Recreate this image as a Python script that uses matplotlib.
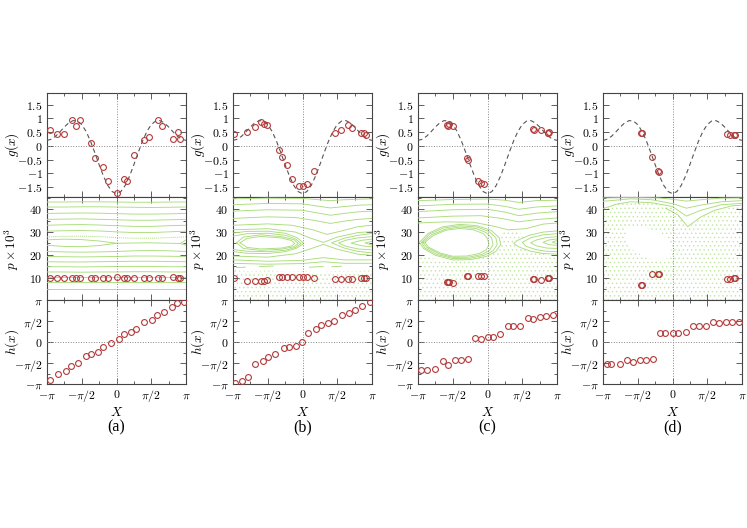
import numpy as np
import matplotlib
matplotlib.use("Agg")
import matplotlib.pyplot as plt
from matplotlib.ticker import MultipleLocator

plt.rcParams['mathtext.fontset'] = 'cm'
plt.rcParams['hatch.linewidth'] = 0.5

pi = np.pi
RED = '#b23a3a'
GREEN = '#aadd7c'
DOTS = '#c2e6a2'

# ---- dashed potential curve g(x), x in units of pi ----
gx = [k / 16 for k in range(-16, 17)]
gy = [0.200, 0.240, 0.353, 0.514, 0.689, 0.838, 0.921, 0.906, 0.775, 0.526, 0.175,
      -0.245, -0.689, -1.107, -1.449, -1.672, -1.750, -1.672, -1.449, -1.107, -0.689,
      -0.245, 0.175, 0.526, 0.775, 0.906, 0.921, 0.838, 0.689, 0.514, 0.353, 0.240, 0.200]

# ---- particles: position (units of pi), g value, momentum (x1e3) ----
xa = [-0.959, -0.853, -0.757, -0.636, -0.583, -0.525, -0.371, -0.308, -0.198, -0.125, 0.005,
      0.111, 0.145, 0.255, 0.39, 0.472, 0.602, 0.66, 0.82, 0.882, 0.92]
ga = [0.59, 0.43, 0.43, 0.94, 0.71, 0.94, 0.09, -0.45, -0.77, -1.29, -1.74, -1.22, -1.29,
      -0.34, 0.23, 0.31, 0.94, 0.73, 0.26, 0.51, 0.24]
pa = [9.9, 9.8, 9.9, 9.8, 9.8, 9.9, 9.9, 9.9, 10.0, 9.9, 10.3, 9.9, 9.9, 10.0, 9.8, 9.9,
      9.9, 9.9, 10.1, 9.9, 9.9]

xb = [-0.986, -0.8, -0.687, -0.6, -0.557, -0.504, -0.340, -0.301, -0.229, -0.147, -0.046,
      0.012, 0.06, 0.171, 0.47, 0.557, 0.648, 0.711, 0.841, 0.88, 0.913]
gb = [0.45, 0.51, 0.69, 0.86, 0.80, 0.75, -0.16, -0.40, -0.71, -1.2, -1.48, -1.46, -1.41,
      -0.93, 0.47, 0.58, 0.76, 0.66, 0.47, 0.47, 0.40]
pb = [9.7, 8.7, 8.7, 8.6, 8.6, 9.1, 10.2, 10.2, 10.2, 10.4, 10.4, 10.2, 10.2, 10.0, 9.3,
      9.3, 9.3, 9.3, 9.7, 9.7, 9.7]

xc = [-0.58, -0.55, -0.565, -0.49, -0.29, -0.283, -0.133, -0.095, -0.052, 0.648, 0.662,
      0.771, 0.867, 0.89, 0.876]
gc = [0.76, 0.78, 0.74, 0.71, -0.44, -0.50, -1.27, -1.37, -1.41, 0.61, 0.58, 0.56, 0.46,
      0.50, 0.47]
pc = [7.9, 7.9, 7.9, 7.8, 10.7, 10.8, 10.6, 10.6, 10.6, 9.4, 9.4, 9.1, 9.8, 9.8, 9.7]

xd = [-0.46, -0.445, -0.297, -0.207, -0.193, 0.777, 0.825, 0.885, 0.897]
gd = [0.47, 0.46, -0.40, -0.92, -0.95, 0.43, 0.40, 0.39, 0.40]
pd_ = [7.0, 7.0, 11.7, 11.7, 11.8, 9.45, 9.45, 9.8, 9.8]

# ---- h(x) ----
hxa = [-0.95, -0.843, -0.733, -0.66, -0.554, -0.443, -0.371, -0.26, -0.188, -0.082, 0.029,
       0.111, 0.207, 0.28, 0.4, 0.506, 0.578, 0.689, 0.795, 0.867, 0.969]
hya = [-0.897, -0.762, -0.683, -0.563, -0.5, -0.341, -0.286, -0.238, -0.127, -0.024, 0.071,
       0.198, 0.238, 0.31, 0.468, 0.516, 0.635, 0.706, 0.833, 0.929, 0.952]
hxb = [-0.967, -0.866, -0.784, -0.677, -0.566, -0.494, -0.393, -0.267, -0.2, -0.094, -0.012,
       0.084, 0.19, 0.267, 0.373, 0.455, 0.566, 0.672, 0.749, 0.855, 0.966]
hyb = [-0.976, -0.937, -0.825, -0.524, -0.444, -0.365, -0.294, -0.151, -0.127, -0.087, 0.008,
       0.206, 0.302, 0.397, 0.444, 0.492, 0.651, 0.69, 0.77, 0.849, 0.944]
hxc = [-0.952, -0.866, -0.751, -0.641, -0.569, -0.474, -0.388, -0.282, -0.187, -0.1, 0.005,
       0.077, 0.187, 0.292, 0.364, 0.469, 0.579, 0.66, 0.761, 0.842, 0.947]
hyc = [-0.664, -0.664, -0.632, -0.451, -0.545, -0.435, -0.419, -0.403, 0.087, 0.079, 0.119,
       0.119, 0.182, 0.379, 0.379, 0.379, 0.577, 0.538, 0.593, 0.609, 0.640]
hxd = [-0.943, -0.88, -0.751, -0.655, -0.573, -0.463, -0.381, -0.285, -0.175, -0.103, 0.007,
       0.074, 0.194, 0.295, 0.376, 0.482, 0.583, 0.664, 0.770, 0.856, 0.952]
hyd = [-0.535, -0.535, -0.535, -0.417, -0.472, -0.417, -0.417, -0.409, 0.213, 0.213, 0.213,
       0.213, 0.236, 0.370, 0.370, 0.370, 0.472, 0.449, 0.472, 0.472, 0.488]

# ---- phase space traces: (x/pi, p) ----
xn = [-1, -0.75, -0.5, -0.25, 0, 0.25, 0.5, 0.75, 1]
a_levels = [
    [43.2, 43.2, 43.3, 43.3, 43.2, 43.1, 43.1, 43.2, 43.2],
    [41.0, 41.0, 41.1, 41.1, 41.0, 40.9, 40.8, 40.9, 41.0],
    [38.2, 38.3, 38.4, 38.3, 38.1, 37.9, 37.9, 38.0, 38.2],
    [35.6, 35.7, 35.8, 35.6, 35.4, 35.2, 35.2, 35.4, 35.6],
    [33.0, 33.2, 33.3, 33.1, 32.8, 32.5, 32.5, 32.8, 33.0],
    [30.4, 30.6, 30.7, 30.5, 30.1, 29.8, 29.8, 30.1, 30.4],
    [21.5, 21.3, 21.2, 21.3, 21.5, 21.8, 21.9, 21.8, 21.5],
    [19.3, 19.2, 19.1, 19.2, 19.3, 19.5, 19.5, 19.4, 19.3],
    [17.0, 16.9, 16.9, 17.0, 17.1, 17.2, 17.2, 17.1, 17.0],
    [14.8, 14.8, 14.7, 14.8, 14.9, 14.9, 14.9, 14.8, 14.8],
    [12.5, 12.5, 12.4, 12.5, 12.5, 12.6, 12.6, 12.5, 12.5],
    [10.3, 10.3, 10.3, 10.3, 10.3, 10.3, 10.3, 10.3, 10.3],
    [8.0, 8.0, 8.0, 8.0, 8.0, 8.0, 8.0, 8.0, 8.0],
    [5.1, 5.1, 5.1, 5.1, 5.1, 5.1, 5.1, 5.1, 5.1],
]
a_sep = [27.9, 28.1, 28.2, 28.0, 27.6, 27.3, 27.3, 27.6, 27.9]
a_curves = [
    [(-1, 26.6), (-0.75, 26.9), (-0.5, 26.7), (-0.25, 26.1), (0, 25.1), (-0.25, 24.1),
     (-0.5, 23.6), (-0.75, 23.7), (-1, 24.2)],
    [(1, 24.2), (0.92, 25.0), (1, 26.6)],
    [(0, 25.1), (0.45, 25.3), (0.92, 25.0)],
]

b_chaos = [(-1, 13.3), (-0.75, 12.8), (-0.5, 13.2), (-0.25, 12.6), (0, 12.9), (0.25, 12.4),
           (0.5, 13.0), (0.75, 12.7), (1, 13.3)]
b_dashes = [[(-0.62, 14.9), (-0.42, 15.1)], [(0.1, 14.6), (0.3, 14.9)],
            [(0.42, 14.8), (0.56, 15.0)], [(-0.95, 14.4), (-0.82, 14.6)]]
b_curves = [
    [(-1, 44.6), (-0.5, 44.9), (0, 44.8), (0.2, 44.3), (0.4, 43.8), (0.6, 44.2), (1, 44.6)],
    [(-1, 42.0), (-0.5, 42.6), (0, 42.4), (0.2, 41.5), (0.4, 40.6), (0.6, 41.2), (0.8, 41.8), (1, 42.0)],
    [(-1, 39.2), (-0.5, 39.8), (0, 39.6), (0.2, 38.5), (0.4, 37.4), (0.6, 38.2), (0.8, 38.9), (1, 39.2)],
    [(-1, 36.0), (-0.5, 36.7), (-0.1, 36.4), (0.2, 35.0), (0.4, 33.8), (0.6, 34.8), (0.8, 35.6), (1, 36.0)],
    [(-1, 33.0), (-0.5, 33.6), (-0.15, 33.0), (0.15, 31.0), (0.35, 29.0), (0.55, 30.4), (0.8, 32.4), (1, 33.0)],
    [(-1, 31.0), (-0.5, 31.5), (-0.1, 30.0), (0.1, 27.5), (0.3, 25.5), (0.5, 27.8), (0.8, 29.8), (1, 30.2)],
    [(-1, 19.5), (-0.5, 19.0), (-0.1, 20.5), (0.1, 22.5), (0.3, 24.6), (0.5, 22.5), (0.8, 20.3), (1, 19.8)],
    [(-1, 17.8), (-0.5, 17.2), (0, 17.6), (0.3, 18.8), (0.6, 17.8), (1, 17.8)],
    [(-1, 16.3), (-0.5, 15.9), (0, 16.2), (0.3, 17.0), (0.6, 16.3), (1, 16.3)],
    [(-1, 29.6), (-0.8, 30.3), (-0.5, 30.4), (-0.25, 29.5), (-0.08, 27.6), (0.02, 25.0),
     (-0.08, 23.0), (-0.25, 21.4), (-0.5, 20.6), (-0.8, 20.7), (-1, 21.5)],
    [(-1, 28.2), (-0.8, 29.3), (-0.5, 29.5), (-0.25, 28.6), (-0.1, 27.0), (-0.02, 25.0),
     (-0.1, 23.3), (-0.25, 22.0), (-0.5, 21.4), (-0.8, 21.6), (-1, 22.4)],
    [(-0.95, 25.3), (-0.85, 27.8), (-0.6, 28.8), (-0.3, 28.0), (-0.12, 26.6), (-0.06, 25.0),
     (-0.12, 23.6), (-0.3, 22.5), (-0.6, 22.0), (-0.85, 22.8), (-0.95, 25.3)],
    [(-0.9, 25.3), (-0.8, 27.2), (-0.6, 28.1), (-0.3, 27.4), (-0.16, 26.3), (-0.11, 25.0),
     (-0.16, 23.9), (-0.3, 23.0), (-0.6, 22.6), (-0.8, 23.3), (-0.9, 25.3)],
    [(1, 29.4), (0.8, 28.6), (0.6, 27.3), (0.42, 25.3), (0.6, 23.0), (0.8, 21.5), (1, 20.9)],
    [(1, 28.0), (0.8, 27.5), (0.62, 26.4), (0.52, 25.2), (0.62, 23.8), (0.8, 22.6), (1, 22.2)],
    [(1, 26.9), (0.85, 26.4), (0.7, 25.2), (0.85, 24.0), (1, 23.5)],
    [(1, 26.0), (0.9, 25.2), (1, 24.4)],
]

c_chaos = [(-1, 20.0), (-0.75, 18.3), (-0.5, 17.8), (-0.25, 18.3), (0, 20.5), (0.1, 24.0),
           (0.18, 28.5), (0.3, 31.5), (0.45, 30.0), (0.6, 26.0), (0.7, 21.5), (0.85, 20.0), (1, 20.0)]
c_island = [(-0.98, 25.5), (-0.85, 29.5), (-0.65, 32.3), (-0.4, 33.4), (-0.15, 32.8),
            (0.05, 30.8), (0.17, 27.5), (0.19, 24.5), (0.12, 21.5), (-0.02, 19.3),
            (-0.25, 17.9), (-0.5, 17.8), (-0.75, 19.8), (-0.92, 22.8), (-0.98, 25.5)]
c_island_r = [(1, 30.5), (0.8, 30.0), (0.6, 28.6), (0.42, 26.2), (0.38, 25.0), (0.45, 23.5),
              (0.62, 21.6), (0.8, 20.6), (1, 20.3)]
c_curves = [
    [(-1, 43.8), (-0.5, 44.3), (0, 44.5), (0.25, 44.0), (0.45, 43.0), (0.7, 43.8), (1, 44.0)],
    [(-1, 41.5), (-0.5, 42.2), (0, 42.3), (0.25, 41.3), (0.45, 40.0), (0.7, 41.0), (1, 41.5)],
    [(-1, 39.0), (-0.5, 39.8), (0, 40.0), (0.25, 38.8), (0.45, 37.2), (0.7, 38.3), (1, 39.0)],
    [(-1, 36.2), (-0.5, 37.0), (-0.1, 37.2), (0.2, 36.0), (0.45, 34.5), (0.7, 35.5), (1, 36.2)],
    [(-1, 34.0), (-0.6, 34.5), (-0.2, 34.3), (0.1, 32.5), (0.3, 31.0), (0.55, 31.5), (0.8, 33.5), (1, 34.0)],
    c_island,
    [(-0.95, 25.5), (-0.83, 29.2), (-0.63, 31.8), (-0.4, 32.8), (-0.15, 32.2), (0.02, 30.3),
     (0.12, 27.5), (0.14, 24.5), (0.08, 21.8), (-0.05, 19.8), (-0.25, 18.5), (-0.5, 18.4),
     (-0.73, 20.2), (-0.9, 23.0), (-0.95, 25.5)],
    [(-0.93, 25.5), (-0.8, 28.9), (-0.6, 31.3), (-0.4, 32.2), (-0.17, 31.6), (-0.02, 29.8),
     (0.06, 27.4), (0.08, 24.5), (0.03, 22.0), (-0.08, 20.2), (-0.27, 19.0), (-0.5, 18.9),
     (-0.7, 20.5), (-0.87, 23.2), (-0.93, 25.5)],
    [(-0.9, 25.5), (-0.78, 28.5), (-0.6, 30.8), (-0.4, 31.6), (-0.2, 31.0), (-0.06, 29.3),
     (0.0, 27.2), (0.02, 24.5), (-0.02, 22.2), (-0.12, 20.6), (-0.3, 19.5), (-0.5, 19.4),
     (-0.68, 20.8), (-0.85, 23.4), (-0.9, 25.5)],
    c_island_r,
    [(1, 29.3), (0.8, 28.8), (0.63, 27.6), (0.5, 25.5), (0.55, 23.8), (0.7, 22.3), (0.85, 21.6), (1, 21.4)],
    [(1, 28.0), (0.85, 27.6), (0.7, 26.5), (0.62, 25.3), (0.7, 24.0), (0.85, 23.0), (1, 22.8)],
    [(1, 27.0), (0.88, 26.5), (0.8, 25.5), (0.88, 24.5), (1, 24.2)],
    [(1, 26.3), (0.93, 25.6), (1, 24.9)],
]

d_chaos = [(-1, 40.8), (-0.8, 42.6), (-0.6, 43.6), (-0.3, 43.2), (0, 41.0), (0.1, 37.5),
           (0.22, 32.0), (0.4, 36.0), (0.6, 39.0), (0.85, 41.0), (1, 41.3)]
d_hole = [(-0.669, 31.6), (-0.549, 32.4), (-0.357, 31.6), (-0.165, 29.5), (-0.046, 25.8),
          (-0.021, 21.4), (-0.094, 17.8), (-0.213, 17.0), (-0.405, 19.2), (-0.573, 22.2),
          (-0.669, 25.8), (-0.669, 31.6)]
d_curves = [
    [(-1, 45.0), (-0.6, 45.2), (-0.2, 45.0), (0, 44.4), (0.2, 43.6), (0.45, 44.3), (0.7, 44.9), (1, 45.0)],
    [(-1, 43.5), (-0.6, 44.6), (-0.3, 44.2), (0, 42.5), (0.2, 40.5), (0.4, 41.8), (0.7, 43.3), (1, 43.8)],
    [(-1, 40.3), (-0.8, 42.3), (-0.6, 43.3), (-0.3, 42.9), (0, 41.2), (0.2, 37.0), (0.4, 39.5), (0.7, 42.0), (1, 42.6)],
    [(-0.1, 40.5), (0.08, 37.5), (0.22, 32.4), (0.4, 36.5), (0.6, 39.5), (0.85, 41.5), (1, 41.8)],
]

panel_labels = ['(a)', '(b)', '(c)', '(d)']
lefts = [47, 233, 418, 603]

W, H = 747, 528
fig = plt.figure(figsize=(7.47, 5.28), dpi=100)


def add_ax(left, top, bottom):
    return fig.add_axes([left / W, 1 - bottom / H, 139 / W, (bottom - top) / H])


def style(ax):
    for s in ax.spines.values():
        s.set_color('#444444')
        s.set_linewidth(0.8)
    ax.tick_params(which='both', direction='in', top=True, right=True,
                   color='#444444', labelsize=8.5, width=0.6)
    ax.tick_params(which='major', length=4, pad=3)
    ax.tick_params(which='minor', length=2.5)
    ax.set_xlim(-pi, pi)
    ax.set_xticks([-pi, -pi / 2, 0, pi / 2, pi])
    ax.xaxis.set_minor_locator(MultipleLocator(pi / 4))
    ax.axvline(0, color='#888888', ls=':', lw=0.7, zorder=4)
    ax.yaxis.set_label_coords(-0.19, 0.5)


def curve(ax, pts, **kw):
    xs = np.array([q[0] for q in pts]) * pi
    ys = [q[1] for q in pts]
    ax.plot(xs, ys, color=GREEN, lw=0.65, zorder=3, **kw)


def stipple(ax, top):
    xs = [q[0] * pi for q in top] + [pi, -pi]
    ys = [q[1] for q in top] + [0, 0]
    ax.fill(xs, ys, facecolor='none', edgecolor=DOTS, hatch='....', lw=0, zorder=1)


def blank(ax, pts):
    xs = [q[0] * pi for q in pts]
    ys = [q[1] for q in pts]
    ax.fill(xs, ys, facecolor='white', edgecolor='none', zorder=2)


pi_labels = [r'$-\pi$', r'$-\pi/2$', r'$0$', r'$\pi/2$', r'$\pi$']
g_ticks = [-1.5, -1, -0.5, 0, 0.5, 1, 1.5]
g_labels = [r'$-1.5$', r'$-1$', r'$-0.5$', r'$0$', r'$0.5$', r'$1$', r'$1.5$']

pts_x = [xa, xb, xc, xd]
pts_g = [ga, gb, gc, gd]
pts_p = [pa, pb, pc, pd_]
h_x = [hxa, hxb, hxc, hxd]
h_y = [hya, hyb, hyc, hyd]
circ = dict(ls='none', marker='o', mfc='none', mec=RED, ms=4.2, mew=0.8, zorder=5)

for i, left in enumerate(lefts):
    axg = add_ax(left, 93, 197)
    axp = add_ax(left, 197, 300)
    axh = add_ax(left, 300, 384)

    # g(x)
    style(axg)
    axg.set_ylim(-1.87, 1.93)
    axg.set_yticks(g_ticks)
    axg.set_yticklabels(g_labels)
    axg.set_xticklabels([])
    axg.axhline(0, color='#888888', ls=':', lw=0.7, zorder=4)
    axg.plot(np.array(gx) * pi, gy, color='#555555', lw=0.8, dashes=(4, 3), zorder=3)
    axg.plot(np.array(pts_x[i]) * pi, pts_g[i], **circ)
    axg.set_ylabel(r'$g(x)$', fontsize=9.5)

    # phase space
    style(axp)
    axp.set_ylim(0.2, 45.4)
    axp.set_yticks([10, 20, 30, 40])
    axp.set_yticklabels([r'$10$', r'$20$', r'$30$', r'$40$'])
    axp.yaxis.set_minor_locator(MultipleLocator(5))
    axp.set_xticklabels([])
    axp.set_ylabel(r'$p\times10^3$', fontsize=9.5)
    if i == 0:
        for lev in a_levels:
            axp.plot(np.array(xn) * pi, lev, color=GREEN, lw=0.65, zorder=3)
        axp.plot(np.array(xn) * pi, a_sep, color=GREEN, lw=0.7, ls=(0, (1, 1)), zorder=3)
        for c in a_curves:
            curve(axp, c)
    elif i == 1:
        stipple(axp, b_chaos)
        for c in b_curves:
            curve(axp, c)
        for c in b_dashes:
            curve(axp, c, solid_capstyle='round')
    elif i == 2:
        stipple(axp, c_chaos)
        blank(axp, c_island)
        blank(axp, c_island_r)
        for c in c_curves:
            curve(axp, c)
    else:
        stipple(axp, d_chaos)
        blank(axp, d_hole)
        for c in d_curves:
            curve(axp, c)
    axp.plot(np.array(pts_x[i]) * pi, pts_p[i], **circ)

    # h(x)
    style(axh)
    axh.set_ylim(-pi, pi)
    axh.set_yticks([-pi, -pi / 2, 0, pi / 2, pi])
    axh.set_yticklabels(pi_labels)
    axh.yaxis.set_minor_locator(MultipleLocator(pi / 4))
    axh.set_xticklabels(pi_labels)
    axh.axhline(0, color='#888888', ls=':', lw=0.7, zorder=4)
    axh.plot(np.array(h_x[i]) * pi, np.array(h_y[i]) * pi, **circ)
    axh.set_ylabel(r'$h(x)$', fontsize=9.5)
    axh.set_xlabel(r'$X$', fontsize=9.5, labelpad=1)

    fig.text((left + 69.5) / W, 1 - 427 / H, panel_labels[i], ha='center', va='center',
             fontsize=11.5, family='Liberation Serif')

fig.savefig('out.png', dpi=100)
